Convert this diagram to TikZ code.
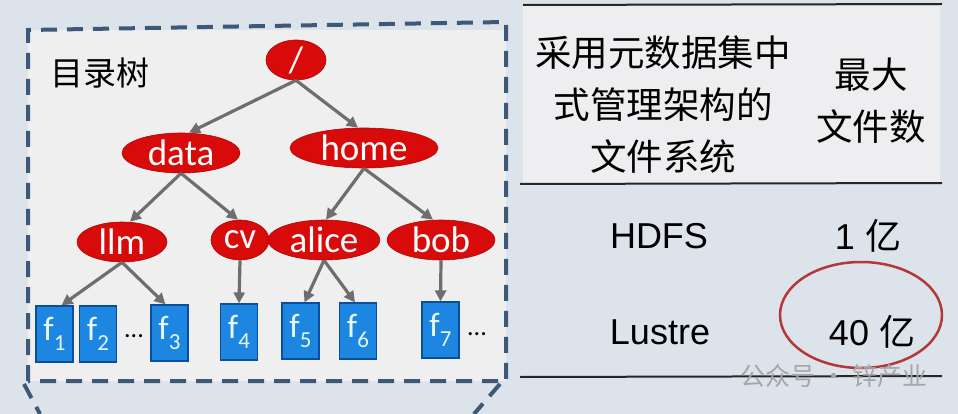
\documentclass[tikz,border=0pt]{standalone}
\usepackage{fontspec}
\setmainfont{Liberation Sans}
\newfontfamily\cjk{Noto Sans CJK SC}
\newfontfamily\treefont{Carlito}
\usetikzlibrary{arrows.meta,shapes.geometric,calc}
\definecolor{bgc}{HTML}{DCE3EB}
\definecolor{panel}{HTML}{EFEFF0}
\definecolor{dashc}{HTML}{3E5878}
\definecolor{dirred}{HTML}{D80A0A}
\definecolor{fileblue}{HTML}{1C86E0}
\definecolor{fileedge}{HTML}{0B4F9C}
\definecolor{arr}{HTML}{6E6E6E}
\definecolor{circ}{HTML}{B2383A}
\tikzset{
  x=1pt,y=-1pt,
  dir/.style={ellipse,fill=dirred,draw=dirred!80!black,line width=0.6pt,text=white,inner sep=0pt,font=\treefont\fontsize{37}{40}\selectfont},
  filebox/.style={rectangle,fill=fileblue,draw=fileedge,line width=1.2pt,minimum width=37pt,minimum height=56pt,inner sep=0pt,text=white!90!cyan,font=\treefont\fontsize{34}{36}\selectfont},
  link/.style={draw=arr,line width=3.2pt,-{Triangle[length=11pt,width=11pt]}},
  hdr/.style={font=\cjk\fontsize{36.5}{52}\selectfont,align=center,inner sep=0pt},
  cell/.style={font=\fontsize{36}{40}\selectfont,inner sep=0pt},
  rule/.style={draw=black!85,line width=2pt}
}
\newcommand{\fsub}[1]{f\raisebox{-10pt}{\fontsize{23}{24}\selectfont #1}}
\begin{document}
\begin{tikzpicture}
\useasboundingbox (0,0) rectangle (958,414);
\fill[bgc] (0,0) rectangle (958,414);
% panels
\fill[panel] (28,30) rectangle (506,381);
\fill[panel!95!bgc] (523,6) rectangle (940,184);
% dashed frame
\draw[dashc,line width=4pt,dash pattern=on 16pt off 10pt] (28,381) -- (28,30) -- (506,22) -- (506,381) -- cycle;
\draw[dashc,line width=4pt,dash pattern=on 16pt off 10pt] (24,384) -- (40,414);
\draw[dashc,line width=4pt,dash pattern=on 16pt off 10pt] (500,384) -- (474,414);
% title
\node[font=\cjk\fontsize{33}{36}\selectfont,inner sep=0pt] (title) at (100,73) {目录树};
% directories
\node[dir,minimum width=60pt,minimum height=40pt] (root) at (296,60) {/};
\node[dir,minimum width=118pt,minimum height=40pt] (data) at (181,153) {data};
\node[dir,minimum width=148pt,minimum height=40pt] (home) at (364,148) {home};
\node[dir,minimum width=90pt,minimum height=40pt] (llm) at (122,242) {llm};
\node[dir,minimum width=58pt,minimum height=40pt] (cv) at (240,240) {cv};
\node[dir,minimum width=112pt,minimum height=40pt] (alice) at (324,240) {alice};
\node[dir,minimum width=108pt,minimum height=40pt] (bob) at (441,240) {bob};
% files
\node[filebox] (f1) at (54.5,334) {\fsub{1}};
\node[filebox] (f2) at (98,334) {\fsub{2}};
\node[font=\treefont\fontsize{26}{28}\selectfont,inner sep=0pt] (d1) at (134,336) {...};
\node[filebox] (f3) at (169.5,333) {\fsub{3}};
\node[filebox] (f4) at (239,332) {\fsub{4}};
\node[filebox] (f5) at (300.5,331) {\fsub{5}};
\node[filebox] (f6) at (358,331) {\fsub{6}};
\node[filebox] (f7) at (440.5,330) {\fsub{7}};
\node[font=\treefont\fontsize{26}{28}\selectfont,inner sep=0pt] (d2) at (477,334) {...};
% links
\draw[link] (root.south) -- ($(data.north)+(8,0)$);
\draw[link] (root.south) -- ($(home.north)+(-6,0)$);
\draw[link] (data.south) -- ($(llm.north)+(8,0)$);
\draw[link] (data.south) -- ($(cv.north)+(-2,0)$);
\draw[link] (home.south) -- ($(alice.north)+(2,0)$);
\draw[link] (home.south) -- ($(bob.north)+(-8,0)$);
\draw[link] (llm.south) -- ($(f1.north)+(7,0)$);
\draw[link] (llm.south) -- ($(f3.north)+(-4,0)$);
\draw[link] (cv.south) -- (f4.north);
\draw[link] (alice.south) -- ($(f5.north)+(4,0)$);
\draw[link] (alice.south) -- ($(f6.north)+(-3,0)$);
\draw[link] (bob.south) -- (f7.north);
% table
\draw[rule] (523,5) -- (942,4);
\draw[rule] (520,184) -- (942,183);
\draw[rule] (520,377) -- (942,376);
\node[hdr] (h1) at (663,105) {采用元数据集中\\式管理架构的\\文件系统};
\node[hdr] (h2) at (871,101) {最大\\文件数};
\node[cell] (hdfs) at (659,236) {HDFS};
\node[cell] (v1) at (868,236) {1 {\cjk 亿}};
\node[cell] (lustre) at (660,332) {Lustre};
\node[cell] (v2) at (872,332) {40 {\cjk 亿}};
\draw[circ,line width=2.5pt] (861,315) ellipse [x radius=81, y radius=53];
% watermark
\node[font=\cjk\fontsize{25}{27}\selectfont,text=gray!70,inner sep=0pt] (wm) at (834,376) {公众号 · 锌产业};
\end{tikzpicture}
\end{document}
